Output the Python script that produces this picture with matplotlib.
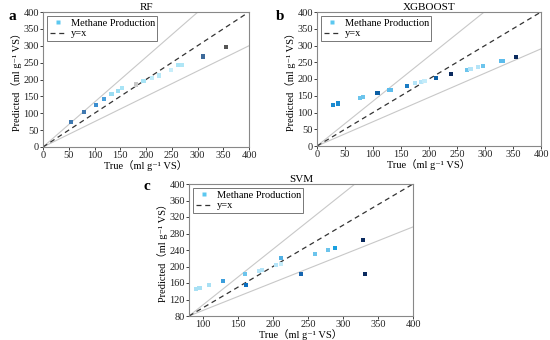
import matplotlib
matplotlib.use("Agg")
import matplotlib.pyplot as plt
from matplotlib.lines import Line2D

plt.rcParams['font.family'] = ['Liberation Serif', 'DejaVu Serif', 'Noto Sans CJK SC']

# ---- data ----
rf_true = [55, 80, 103, 118, 133, 145, 153, 180, 195, 212, 226, 248, 263, 270, 310, 355]
rf_pred = [75, 103, 125, 142, 158, 165, 175, 185, 195, 205, 212, 227, 243, 242, 268, 297]
rf_col = ['#3f78b0', '#3f78b0', '#3b8ed0', '#4aa0dc', '#9adcf2', '#9adcf2', '#a8e4f6', '#c8c8c8',
          '#a8e4f6', '#c0ecfa', '#b8e8f8', '#c8eefa', '#a8e4f6', '#b0e6f6', '#3d6a9a', '#555555']

xgb_true = [28, 38, 77, 82, 108, 129, 132, 160, 175, 186, 192, 212, 240, 268, 274, 288, 297, 328, 332, 356]
xgb_pred = [123, 127, 144, 146, 157, 167, 168, 180, 187, 192, 194, 203, 215, 227, 230, 235, 239, 253, 253, 265]
xgb_col = ['#1a8ad0', '#1a8ad0', '#6cc4ec', '#6cc4ec', '#0b5fa5', '#5cbcec', '#5cbcec', '#1a7cc4',
           '#b4e4f8', '#b4e4f8', '#c4ecfa', '#0b5fa5', '#0a2a5e', '#6cc4ec', '#b4e4f8', '#b4e4f8',
           '#6cc4ec', '#5cbcec', '#5cbcec', '#0a2a5e']

svm_true = [90, 95, 108, 128, 160, 161, 180, 184, 204, 212, 212, 240, 260, 278, 289, 328, 331]
svm_pred = [146, 147, 155, 165, 181, 155, 190, 192, 203, 220, 207, 181, 230, 240, 245, 265, 181]
svm_col = ['#a8e0f4', '#a8e0f4', '#a8e0f4', '#3c9edc', '#6cc4ec', '#0b6fc0', '#b4e4f8', '#b4e4f8',
           '#b4e4f8', '#50b0e4', '#c4ecfa', '#1565b0', '#6cc4ec', '#6cc4ec', '#1aa0e0', '#0a2a5e', '#0a2a5e']

titles = ['RF', 'XGBOOST', 'SVM']
xlabel = 'True（ml g⁻¹ VS）'
ylabel = 'Predicted（ml g⁻¹ VS）'
legend_labels = ['Methane Production', 'y=x']

# ---- layout ----
W, H = 550, 340
fig = plt.figure(figsize=(5.5, 3.4), dpi=100)

def ax_at(l, t, r, b):
    return fig.add_axes([l / W, 1 - b / H, (r - l) / W, (b - t) / H])

axA = ax_at(43, 12, 249, 147)
axB = ax_at(317, 12, 541, 146)
axC = ax_at(189, 184, 413, 316)

ref_lines = {
    'a': dict(lo=0, hi=400, up=1.33, dn=0.75, anchor=0),
    'b': dict(lo=0, hi=400, up=1.34, dn=0.725, anchor=0),
    'c': dict(lo=80, hi=400, up=1.35, dn=0.675, anchor=80),
}

datasets = [(axA, rf_true, rf_pred, rf_col, 'a', range(0, 401, 50), range(0, 401, 50)),
            (axB, xgb_true, xgb_pred, xgb_col, 'b', range(0, 401, 50), range(0, 401, 50)),
            (axC, svm_true, svm_pred, svm_col, 'c', range(100, 401, 50), range(80, 401, 40))]

for i, (ax, xt, yp, cols, key, xticks, yticks) in enumerate(datasets):
    p = ref_lines[key]
    lo, hi, a0 = p['lo'], p['hi'], p['anchor']
    xs = [a0, hi]
    ax.plot(xs, [a0, a0 + p['up'] * (hi - a0)], color='#c8c8c8', lw=0.8, zorder=1)
    ax.plot(xs, [a0, a0 + p['dn'] * (hi - a0)], color='#c8c8c8', lw=0.8, zorder=1)
    ax.plot([lo, hi], [lo, hi], color='#333333', lw=0.9, ls=(0, (4, 3)), zorder=2)
    ax.scatter(xt, yp, c=cols, marker='s', s=9, linewidths=0, zorder=3)
    ax.set_xlim(lo, hi)
    ax.set_ylim(lo, hi)
    ax.set_xticks(list(xticks))
    ax.set_yticks(list(yticks))
    ax.tick_params(labelsize=7.5, length=2, width=0.6, pad=1, colors='#222222')
    for s in ax.spines.values():
        s.set_color('#888888')
        s.set_linewidth(0.8)
    ax.set_title(titles[i], fontsize=8, pad=1.5)
    ax.set_xlabel(xlabel, fontsize=7.5, labelpad=0)
    ax.set_ylabel(ylabel, fontsize=7.5, labelpad=1)
    handles = [Line2D([], [], marker='s', color='none', markerfacecolor='#5cc8f0',
                      markeredgecolor='none', markersize=3.5),
               Line2D([], [], color='#333333', lw=0.9, ls=(0, (4, 3)))]
    leg = ax.legend(handles, legend_labels, loc='upper left', fontsize=7.5,
                    frameon=True, fancybox=False, handlelength=1.6, handletextpad=0.4,
                    borderpad=0.25, labelspacing=0.1, borderaxespad=0.4)
    leg.get_frame().set_edgecolor('#555555')
    leg.get_frame().set_linewidth(0.7)

fig.text(12 / W, 1 - 16 / H, 'a', fontsize=11, fontweight='bold', va='center', ha='center')
fig.text(280 / W, 1 - 16 / H, 'b', fontsize=11, fontweight='bold', va='center', ha='center')
fig.text(147 / W, 1 - 186 / H, 'c', fontsize=11, fontweight='bold', va='center', ha='center')

fig.savefig('out.png', dpi=100)
